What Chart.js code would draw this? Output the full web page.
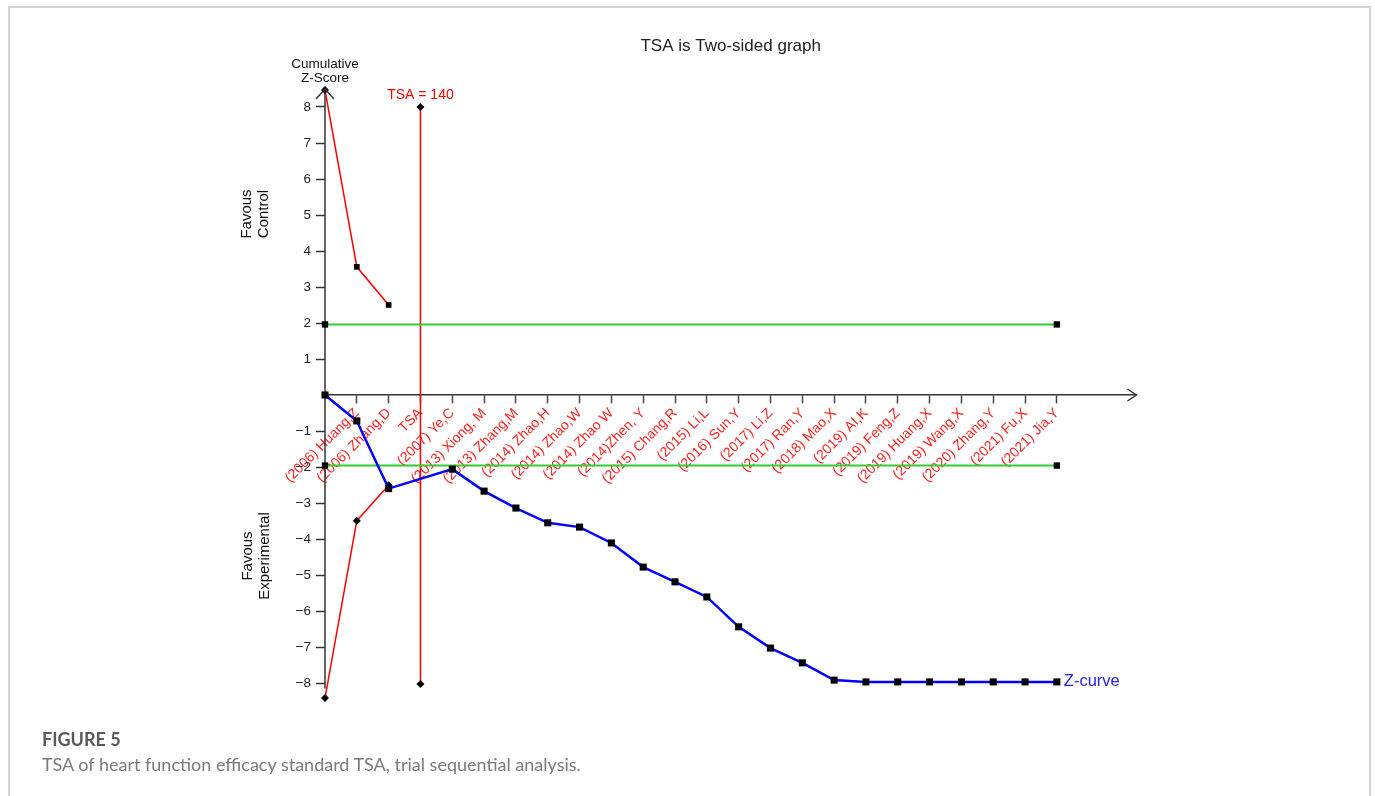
<!DOCTYPE html>
<html>
<head>
<meta charset="utf-8">
<script src="https://cdn.jsdelivr.net/npm/chart.js@4.4.1/dist/chart.umd.min.js"></script>
<style>
body { margin: 0; background: #fff; }
#wrap { position: relative; width: 1375px; height: 796px; overflow: hidden; }
#frame { position: absolute; left: 8px; top: 6px; width: 1359px; height: 830px; border: 2px solid #d4d4d4; border-bottom: none; }
#c { position: absolute; left: 0; top: 0; }
.fig { position: absolute; left: 42px; top: 730px; font: bold 18px Lato; line-height: 18px; color: #5a5a5a; }
.cap { position: absolute; left: 42px; top: 755px; font: 18px Lato; line-height: 18px; color: #7a7a7a; }
</style>
</head>
<body>
<div id="wrap">
	<div id="frame"></div>
	<canvas id="c" width="1375" height="796"></canvas>
	<div class="fig">FIGURE 5</div>
	<div class="cap">TSA of heart function efficacy standard TSA, trial sequential analysis.</div>
</div>
<script>

// study labels, index 0 is the origin
let studyLabels = ['', '(2006) Huang,Z', '(2006) Zhang,D', 'TSA', '(2007) Ye,C', '(2013) Xiong, M',
	'(2013) Zhang,M', '(2014) Zhao,H', '(2014) Zhao,W', '(2014) Zhao W', '(2014)Zhen, Y',
	'(2015) Chang,R', '(2015) Li,L', '(2016) Sun,Y', '(2017) Li,Z', '(2017) Ran,Y', '(2018) Mao,X',
	'(2019) AI,K', '(2019) Feng,Z', '(2019) Huang,X', '(2019) Wang,X', '(2020) Zhang,Y',
	'(2021) Fu,X', '(2021) Jia,Y'];

// cumulative z-curve (null at the TSA column, line goes through)
let zCurve = [0, -0.72, -2.60, null, -2.06, -2.67, -3.14, -3.55, -3.67, -4.11, -4.78, -5.19,
	-5.61, -6.44, -7.03, -7.44, -7.92, -7.97, -7.97, -7.97, -7.97, -7.97, -7.97, -7.97];

let upperBoundary = [8.47, 3.56, 2.50];
let lowerBoundary = [-8.42, -3.49, -2.51];
let upperStyles = ['rectRot', 'rect', 'rect'];

let conventionalX = [0, 23];
let conventionalZ = 1.96;

let tsaIndex = 3;
let tsaValue = 140;
let tsaTop = 8;
let tsaBottom = -8.03;

let yTicks = [-8, -7, -6, -5, -4, -3, -2, -1, 1, 2, 3, 4, 5, 6, 7, 8];
let yAxisEnd = -8.15;

function toPoints(values) {
	let pts = [];
	for (let i = 0; i < values.length; i++) pts.push({ x: i, y: values[i] });
	return pts;
}

let extrasPlugin = {
	id: 'extras',
	beforeDatasetsDraw(chart) {
		// y axis line stops a little below -8
		let ctx = chart.ctx;
		let x0 = chart.scales.x.getPixelForValue(0);
		ctx.save();
		ctx.strokeStyle = '#333';
		ctx.lineWidth = 1.5;
		ctx.beginPath();
		ctx.moveTo(x0, chart.chartArea.top);
		ctx.lineTo(x0, chart.scales.y.getPixelForValue(yAxisEnd));
		ctx.stroke();
		ctx.restore();
	},
	afterDraw(chart) {
		let ctx = chart.ctx;
		let xs = chart.scales.x;
		let ys = chart.scales.y;
		let x0 = xs.getPixelForValue(0);
		let y0 = ys.getPixelForValue(0);
		let top = chart.chartArea.top;
		let right = chart.chartArea.right;

		ctx.save();
		ctx.strokeStyle = '#333';
		ctx.lineWidth = 1.5;
		// arrow heads
		ctx.beginPath();
		ctx.moveTo(x0 - 9, top + 10);
		ctx.lineTo(x0, top);
		ctx.lineTo(x0 + 9, top + 10);
		ctx.moveTo(right - 9, y0 - 6);
		ctx.lineTo(right, y0);
		ctx.lineTo(right - 9, y0 + 6);
		ctx.stroke();

		ctx.fillStyle = '#111';
		ctx.textAlign = 'center';
		ctx.textBaseline = 'alphabetic';
		ctx.font = '13.5px "Liberation Sans", Arial';
		ctx.fillText('Cumulative', x0, 68);
		ctx.fillText('Z-Score', x0, 82);

		// side labels
		ctx.font = '15px "Liberation Sans", Arial';
		ctx.textBaseline = 'middle';
		let sideLabels = [[255.5, 214, 'Favous', 'Control'], [256, 556, 'Favous', 'Experimental']];
		sideLabels.forEach(function(s) {
			ctx.save();
			ctx.translate(s[0], s[1]);
			ctx.rotate(-Math.PI / 2);
			ctx.fillText(s[2], 0, -8.5);
			ctx.fillText(s[3], 0, 8.5);
			ctx.restore();
		});

		// TSA label
		ctx.fillStyle = '#ff0000';
		ctx.font = '14px "Liberation Sans", Arial';
		ctx.textBaseline = 'alphabetic';
		ctx.fillText('TSA = ' + tsaValue, xs.getPixelForValue(tsaIndex), ys.getPixelForValue(tsaTop) - 8);

		// z-curve label
		let last = zCurve.length - 1;
		ctx.fillStyle = '#2222ee';
		ctx.font = '16.5px "Liberation Sans", Arial';
		ctx.textAlign = 'left';
		ctx.textBaseline = 'middle';
		ctx.fillText('Z-curve', xs.getPixelForValue(last) + 7, ys.getPixelForValue(zCurve[last]));
		ctx.restore();
	}
};

let chart = new Chart(document.getElementById('c'), {
	type: 'line',
	data: {
		datasets: [
			{
				data: toPoints(zCurve),
				borderColor: '#0000ff',
				borderWidth: 2.5,
				spanGaps: true,
				pointStyle: 'rect',
				pointRadius: 5,
				pointBackgroundColor: '#000',
				pointBorderColor: '#000',
				pointBorderWidth: 0,
				clip: false
			},
			{
				data: conventionalX.map(function(x) { return { x: x, y: conventionalZ }; }),
				borderColor: '#33cc33',
				borderWidth: 2,
				pointStyle: 'rect',
				pointRadius: 4.5,
				pointBackgroundColor: '#000',
				pointBorderWidth: 0,
				clip: false
			},
			{
				data: conventionalX.map(function(x) { return { x: x, y: -conventionalZ }; }),
				borderColor: '#33cc33',
				borderWidth: 2,
				pointStyle: 'rect',
				pointRadius: 4.5,
				pointBackgroundColor: '#000',
				pointBorderWidth: 0,
				clip: false
			},
			{
				data: toPoints(upperBoundary),
				borderColor: '#ff0000',
				borderWidth: 1.5,
				pointStyle: upperStyles,
				pointRadius: 4,
				pointBackgroundColor: '#000',
				pointBorderWidth: 0,
				clip: false
			},
			{
				data: toPoints(lowerBoundary),
				borderColor: '#ff0000',
				borderWidth: 1.5,
				pointStyle: 'rectRot',
				pointRadius: 4,
				pointBackgroundColor: '#000',
				pointBorderWidth: 0,
				clip: false
			},
			{
				data: [{ x: tsaIndex, y: tsaTop }, { x: tsaIndex, y: tsaBottom }],
				borderColor: '#ff0000',
				borderWidth: 1.5,
				pointStyle: 'rectRot',
				pointRadius: 4,
				pointBackgroundColor: '#000',
				pointBorderWidth: 0,
				clip: false
			}
		]
	},
	options: {
		responsive: false,
		animation: false,
		devicePixelRatio: 1,
		layout: { padding: { left: 285, right: 238.6, top: 35.8, bottom: 91.4 } },
		plugins: {
			legend: { display: false },
			tooltip: { enabled: false },
			title: {
				display: true,
				text: 'TSA is Two-sided graph',
				fullSize: false,
				color: '#222',
				font: { family: '"Liberation Sans", Arial', size: 17, weight: 'normal' },
				padding: { top: 0, bottom: 32.8 }
			}
		},
		scales: {
			x: {
				type: 'linear',
				position: { y: 0 },
				min: 0,
				max: 25.5,
				grid: {
					drawOnChartArea: false,
					tickLength: 8,
					tickWidth: 1.5,
					tickColor: function(c) {
						let v = c.tick ? c.tick.value : 0;
						return (v >= 1 && v < studyLabels.length) ? '#444' : 'rgba(0,0,0,0)';
					}
				},
				border: { color: '#333', width: 1.5 },
				ticks: {
					stepSize: 1,
					includeBounds: false,
					autoSkip: false,
					minRotation: 45,
					maxRotation: 45,
					padding: 2,
					color: '#ff2222',
					font: { family: '"Liberation Sans", Arial', size: 14 },
					callback: function(v) { return studyLabels[v] || ''; }
				}
			},
			y: {
				min: -8.6,
				max: 8.5,
				afterFit: function(s) { s.width = 40; },
				grid: {
					drawOnChartArea: false,
					tickLength: 9,
					tickWidth: 1.5,
					tickColor: function(c) {
						let v = c.tick ? c.tick.value : 0;
						return yTicks.indexOf(v) >= 0 ? '#333' : 'rgba(0,0,0,0)';
					}
				},
				border: { display: false },
				ticks: {
					stepSize: 1,
					includeBounds: false,
					padding: 5,
					color: '#222',
					font: { family: '"Liberation Sans", Arial', size: 13.5 },
					callback: function(v) {
						if (yTicks.indexOf(v) < 0) return '';
						return v < 0 ? '\u2212' + (-v) : String(v);
					}
				}
			}
		}
	},
	plugins: [extrasPlugin]
});

</script>
</body>
</html>
